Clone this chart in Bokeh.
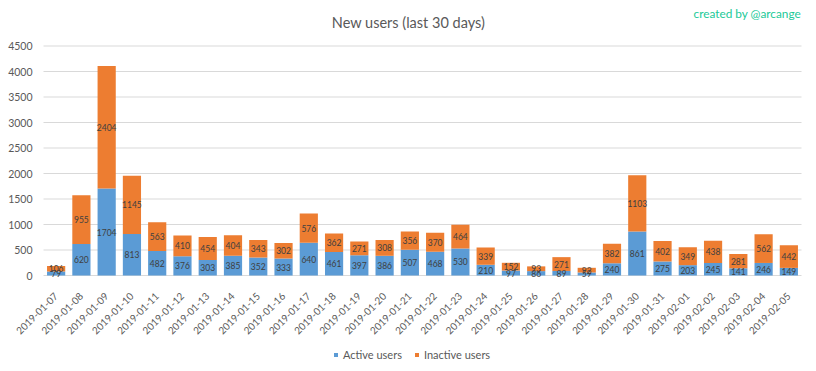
from bokeh.plotting import figure
from bokeh.models import ColumnDataSource, Range1d, Label, Legend, LegendItem, FixedTicker
from bokeh.core.properties import value
from bokeh.embed import file_html
from bokeh.resources import INLINE
import math

dates = ["2019-01-07", "2019-01-08", "2019-01-09", "2019-01-10", "2019-01-11", "2019-01-12",
         "2019-01-13", "2019-01-14", "2019-01-15", "2019-01-16", "2019-01-17", "2019-01-18",
         "2019-01-19", "2019-01-20", "2019-01-21", "2019-01-22", "2019-01-23", "2019-01-24",
         "2019-01-25", "2019-01-26", "2019-01-27", "2019-01-28", "2019-01-29", "2019-01-30",
         "2019-01-31", "2019-02-01", "2019-02-02", "2019-02-03", "2019-02-04", "2019-02-05"]
active = [79, 620, 1704, 813, 482, 376, 303, 385, 352, 333, 640, 461, 397, 386, 507,
          468, 530, 210, 97, 86, 89, 59, 240, 861, 275, 203, 245, 141, 246, 149]
inactive = [106, 955, 2404, 1145, 563, 410, 454, 404, 343, 302, 576, 362, 271, 308, 356,
            370, 464, 339, 152, 93, 271, 92, 382, 1103, 402, 349, 438, 281, 562, 442]
y_ticks = [0, 500, 1000, 1500, 2000, 2500, 3000, 3500, 4000, 4500]

FONT = "Lato"
GREY = "#595959"
BLUE = "#5b9bd5"
ORANGE = "#ed7d31"

n = len(dates)
idx = list(range(n))
src = ColumnDataSource(dict(
    x=idx, active=active, inactive=inactive,
    amid=[a / 2 for a in active],
    imid=[a + i / 2 for a, i in zip(active, inactive)],
    alab=[str(a) for a in active],
    ilab=[str(i) for i in inactive],
))

# frame covers the whole canvas 0..816 x 0..371 px;
# the category area spans 43..801 px, value 0 sits at 275 px and 4500 at 45.5 px
cat_px = 758 / n
px_per_unit = 229.5 / 4500
FW, FH = 816, 371
x_lo = -0.5
p = figure(x_range=Range1d(x_lo - 43 / cat_px, n - 0.5 + 15 / cat_px),
           y_range=Range1d(-(FH - 275) / px_per_unit, 275 / px_per_unit),
           frame_width=FW, frame_height=FH, output_backend="svg", toolbar_location=None,
           min_border_left=0, min_border_right=0, min_border_top=0, min_border_bottom=0)

# horizontal gridlines spanning the category area only
p.segment(x0=[x_lo] * len(y_ticks), x1=[n - 0.5] * len(y_ticks), y0=y_ticks, y1=y_ticks,
          line_color="#d9d9d9", line_width=1)

r = p.vbar_stack(["active", "inactive"], x="x", width=0.72, color=[BLUE, ORANGE],
                 line_color=None, source=src)

p.text(x="x", y="amid", text="alab", source=src, text_align="center", text_baseline="middle",
       text_font=value(FONT), text_font_size="8.5px", text_color="#404040")
p.text(x="x", y="imid", text="ilab", source=src, text_align="center", text_baseline="middle",
       text_font=value(FONT), text_font_size="8.5px", text_color="#404040")

p.outline_line_color = None
p.xgrid.grid_line_color = None
p.ygrid.grid_line_color = None

p.yaxis.fixed_location = x_lo
p.yaxis.ticker = FixedTicker(ticks=y_ticks)
p.yaxis.axis_line_color = None
p.yaxis.major_tick_line_color = None
p.yaxis.minor_tick_line_color = None
p.yaxis.major_label_standoff = 5
p.yaxis.major_label_text_font = FONT
p.yaxis.major_label_text_font_size = "10.5px"
p.yaxis.major_label_text_color = GREY

p.xaxis.fixed_location = 0
p.xaxis.ticker = FixedTicker(ticks=idx)
p.xaxis.major_label_overrides = {i: d for i, d in zip(idx, dates)}
p.xaxis.axis_line_color = None
p.xaxis.major_tick_line_color = None
p.xaxis.minor_tick_line_color = None
p.xaxis.major_label_orientation = math.pi / 4
p.xaxis.major_label_standoff = 13
p.xaxis.major_label_text_font = FONT
p.xaxis.major_label_text_font_size = "10px"
p.xaxis.major_label_text_color = GREY

p.add_layout(Label(x=408, y=FH - 22, x_units="screen", y_units="screen", text="New users (last 30 days)",
                   text_align="center", text_baseline="middle", text_font=FONT,
                   text_font_size="14.5px", text_color=GREY))
p.add_layout(Label(x=693, y=FH - 12.5, x_units="screen", y_units="screen", text="created by @arcange",
                   text_align="left", text_baseline="middle", text_font=FONT,
                   text_font_size="11.8px", text_color="#20c997"))

legend = Legend(items=[LegendItem(label="Active users", renderers=[r[0]]),
                       LegendItem(label="Inactive users", renderers=[r[1]])],
                orientation="horizontal", location=(333, 10),
                glyph_width=5, glyph_height=5, label_standoff=5, spacing=12,
                label_text_font=FONT, label_text_font_size="11px", label_text_color=GREY,
                border_line_color=None, background_fill_alpha=0, padding=0, margin=0)
p.add_layout(legend, "center")

open("out.html", "w").write(file_html(p, INLINE))
